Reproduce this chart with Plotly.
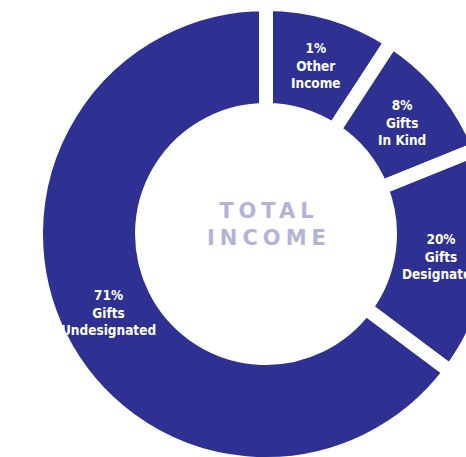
import math
import plotly.graph_objects as go

# ---- data ----
categories = ["Other Income", "Gifts In Kind", "Gifts Designated", "Gifts Undesignated"]
pct_text = [1, 8, 20, 71]                 # printed percentages
slice_share = [9.2, 9.7, 16.3, 64.8]      # angular share of each slice as drawn
center_title = ["TOTAL", "INCOME"]

# ---- style ----
NAVY = "#2E3192"
TITLE_COLOR = "#B3B3D6"
GAP = 14
W, H = 532, 468
L, T = 36, 4
PLOT = 460
HOLE = 0.539
LABEL_R_PX = 176
LABEL_FONT = "Liberation Sans Narrow, Arial Narrow, DejaVu Sans Condensed, sans-serif"
SPACING = 5

fig = go.Figure(go.Pie(
    labels=categories,
    values=slice_share,
    sort=False,
    direction="clockwise",
    rotation=0,
    hole=HOLE,
    marker=dict(colors=[NAVY] * len(categories), line=dict(color="white", width=GAP)),
    textinfo="none",
    hoverinfo="skip",
    showlegend=False,
    domain=dict(x=[0, 1], y=[0, 1]),
))

annotations = []
total = sum(slice_share)
cum = 0.0
for cat, pct, share in zip(categories, pct_text, slice_share):
    mid = (cum + share / 2) / total * 2 * math.pi
    cum += share
    cx = 0.5 + (LABEL_R_PX / PLOT) * math.sin(mid)
    cy = 0.5 + (LABEL_R_PX / PLOT) * math.cos(mid)
    lines = [f"{pct}%"] + cat.split(" ", 1)
    annotations.append(dict(
        x=cx, y=cy, xref="paper", yref="paper",
        text="<br>".join(lines), showarrow=False, xanchor="center", yanchor="middle",
        align="center",
        font=dict(family=LABEL_FONT, size=13.5, color="white", weight=700),
    ))

title_text = "<br>".join(
    f'<span style="letter-spacing:{SPACING}px">{w}</span>' for w in center_title
)
annotations.append(dict(
    x=0.5, y=0.5 + 10 / PLOT, xref="paper", yref="paper",
    text=title_text, showarrow=False, xanchor="center", yanchor="middle",
    align="center", xshift=SPACING / 2,
    font=dict(family="DejaVu Sans, Arial, sans-serif", size=21, color=TITLE_COLOR, weight=700),
))

fig.update_layout(
    width=W, height=H, autosize=False,
    margin=dict(l=L, r=W - L - PLOT, t=T, b=H - T - PLOT, pad=0),
    paper_bgcolor="white", plot_bgcolor="white",
    annotations=annotations,
)

fig.write_html(
    "out.html",
    post_script="document.body.style.margin='0';document.body.style.overflow='hidden';"
                "document.documentElement.style.overflow='hidden';",
)
